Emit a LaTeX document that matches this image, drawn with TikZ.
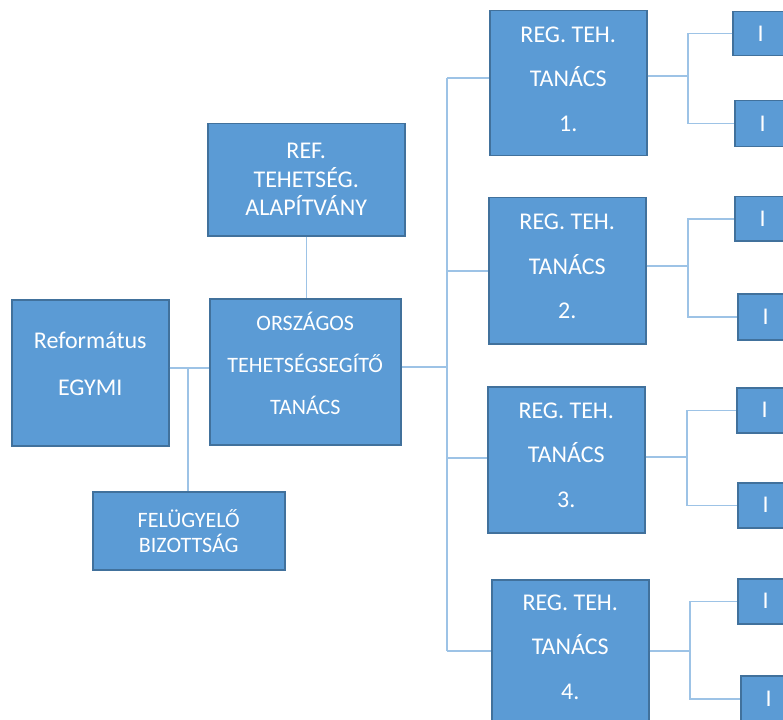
\documentclass[tikz,border=0pt]{standalone}
\usepackage{fontspec}
\setmainfont{Carlito}
\definecolor{boxfill}{HTML}{5B9BD5}
\definecolor{boxline}{HTML}{41719C}
\definecolor{connline}{HTML}{9DC3E6}
\tikzset{
  box/.style={draw=boxline, line width=1.5pt, fill=boxfill, inner sep=0pt, anchor=north west},
  txt/.style={text=white, align=center, inner sep=0pt},
  big/.style={font=\fontsize{24}{44.5}\selectfont},
  conn/.style={draw=connline, line width=1.5pt},
}
\begin{document}
\begin{tikzpicture}[x=1pt,y=-1pt]
\useasboundingbox (0,0) rectangle (783,719);
\clip (0,0) rectangle (783,719);
% boxes
\node[box, minimum width=197pt, minimum height=112pt] (ref) at (207,123) {};
\node[box, minimum width=157pt, minimum height=146pt] (refo) at (11,299) {};
\node[box, minimum width=191pt, minimum height=146pt] (orsz) at (209,298) {};
\node[box, minimum width=192pt, minimum height=78pt] (felu) at (92,491) {};
\node[box, minimum width=157pt, minimum height=145pt] (reg1) at (489,10) {};
\node[box, minimum width=157pt, minimum height=146pt] (reg2) at (488,197) {};
\node[box, minimum width=157pt, minimum height=146pt] (reg3) at (487,386) {};
\node[box, minimum width=157pt, minimum height=146pt] (reg4) at (491,579) {};
\tikzset{ibox/.style={box, minimum width=56pt, minimum height=44pt}}
\node[ibox] (i1a) at (732,11) {};
\node[ibox, minimum height=46pt] (i1b) at (734,100) {};
\node[ibox] (i2a) at (734,196) {};
\node[ibox, minimum height=46pt] (i2b) at (737,293) {};
\node[ibox, minimum height=45pt] (i3a) at (736,387) {};
\node[ibox, minimum height=45pt] (i3b) at (737,482) {};
\node[ibox, minimum height=45pt] (i4a) at (737,578) {};
\node[ibox, minimum height=46pt] (i4b) at (740,675) {};
% texts
\node[txt, font=\fontsize{24}{28.5}\selectfont] (reft) at (ref.center) {REF.\\TEHETSÉG.\\ALAPÍTVÁNY};
\node[txt, font=\fontsize{24}{47}\selectfont, yshift=8.5pt] (refot) at (refo.center) {Református\\EGYMI};
\node[txt, font=\fontsize{22}{42}\selectfont, yshift=8pt] (orszt) at (orsz.center) {ORSZÁGOS\\TEHETSÉGSEGÍTŐ\\TANÁCS};
\node[txt, font=\fontsize{22}{25}\selectfont] (felut) at (felu.center) {FELÜGYELŐ\\BIZOTTSÁG};
\node[txt, big, yshift=4pt] (reg1t) at (reg1.center) {REG. TEH.\\TANÁCS\\1.};
\node[txt, big, yshift=4pt] (reg2t) at (reg2.center) {REG. TEH.\\TANÁCS\\2.};
\node[txt, big, yshift=4.5pt] (reg3t) at (reg3.center) {REG. TEH.\\TANÁCS\\3.};
\node[txt, big, yshift=5.5pt] (reg4t) at (reg4.center) {REG. TEH.\\TANÁCS\\4.};
\tikzset{itxt/.style={txt, font=\fontsize{24}{28}\selectfont}}
\node[itxt] (i1at) at (i1a.center) {I};
\node[itxt] (i1bt) at (i1b.center) {I};
\node[itxt] (i2at) at (i2a.center) {I};
\node[itxt] (i2bt) at (i2b.center) {I};
\node[itxt] (i3at) at (i3a.center) {I};
\node[itxt] (i3bt) at (i3b.center) {I};
\node[itxt] (i4at) at (i4a.center) {I};
\node[itxt] (i4bt) at (i4b.center) {I};
% connectors left
\coordinate (j1) at (188,368);
\draw[conn] (refo.east |- j1) -- (orsz.west |- j1);
\draw[conn] (j1) -- (felu.north -| j1);
\draw[conn] (ref.south) -- (ref.south |- orsz.north);
% spine
\coordinate (sp) at (447,367);
\coordinate (s1) at (447,78);
\coordinate (s2) at (447,271);
\coordinate (s3) at (447,458);
\coordinate (s4) at (447,651);
\draw[conn] (orsz.east |- sp) -- (sp);
\draw[conn] (s1) -- (s4);
\draw[conn] (s1) -- (reg1.west |- s1);
\draw[conn] (s2) -- (reg2.west |- s2);
\draw[conn] (s3) -- (reg3.west |- s3);
\draw[conn] (s4) -- (reg4.west |- s4);
% right branches
\coordinate (b1) at (688,76);
\coordinate (b2) at (688,266);
\coordinate (b3) at (687,457);
\coordinate (b4) at (690,651);
\draw[conn] (reg1.east |- b1) -- (b1);
\draw[conn] (reg2.east |- b2) -- (b2);
\draw[conn] (reg3.east |- b3) -- (b3);
\draw[conn] (reg4.east |- b4) -- (b4);
\draw[conn] (i1a.west) -| (b1) |- (i1b.west);
\draw[conn] (i2a.west) -| (b2) |- (i2b.west);
\draw[conn] (i3a.west) -| (b3) |- (i3b.west);
\draw[conn] (i4a.west) -| (b4) |- (i4b.west);
\end{tikzpicture}
\end{document}
